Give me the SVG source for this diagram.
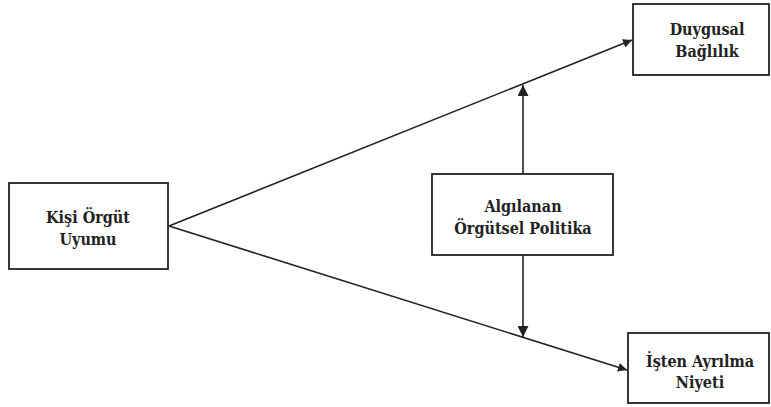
<svg xmlns="http://www.w3.org/2000/svg" width="771" height="407" viewBox="0 0 771 407">
<defs>
<style>
.box{fill:#fff;stroke:#222;stroke-width:1.8}
.t{font-family:'DejaVu Serif Condensed','DejaVu Serif',serif;font-stretch:condensed;font-weight:700;font-size:16px;fill:#222;text-anchor:middle}
.c{stroke:#222;stroke-width:1.6;fill:none}
</style>
<marker id="ah" viewBox="0 0 10 10" refX="10" refY="5" markerWidth="9" markerHeight="9" markerUnits="userSpaceOnUse" orient="auto"><path d="M0,0 L10,5 L0,10 z" fill="#222"/></marker>
<marker id="ah2" viewBox="0 0 10 10" refX="10" refY="5" markerWidth="11" markerHeight="11" markerUnits="userSpaceOnUse" orient="auto"><path d="M0,0 L10,5 L0,10 z" fill="#222"/></marker>
</defs>
<rect width="771" height="407" fill="#fff"/>
<g id="connectors">
<line class="c" x1="169" y1="226" x2="632" y2="40" marker-end="url(#ah)"/>
<line class="c" x1="169" y1="226" x2="627" y2="370" marker-end="url(#ah)"/>
<line class="c" x1="523" y1="174" x2="523" y2="85" marker-end="url(#ah2)"/>
<line class="c" x1="523" y1="255" x2="523" y2="337" marker-end="url(#ah2)"/>
</g>
<g id="kisi">
<rect class="box" x="9" y="183" width="159" height="86"/>
<text class="t" x="88" y="223">Kişi Örgüt</text>
<text class="t" x="88" y="245">Uyumu</text>
</g>
<g id="algilanan">
<rect class="box" x="432" y="174" width="181" height="81"/>
<text class="t" x="523" y="212">Algılanan</text>
<text class="t" x="523" y="234">Örgütsel Politika</text>
</g>
<g id="duygusal">
<rect class="box" x="633" y="4" width="136" height="71"/>
<text class="t" x="707" y="35">Duygusal</text>
<text class="t" x="707" y="57">Bağlılık</text>
</g>
<g id="isten">
<rect class="box" x="628" y="333" width="141" height="70"/>
<text class="t" x="700" y="367">İşten Ayrılma</text>
<text class="t" x="700" y="388">Niyeti</text>
</g>
</svg>
